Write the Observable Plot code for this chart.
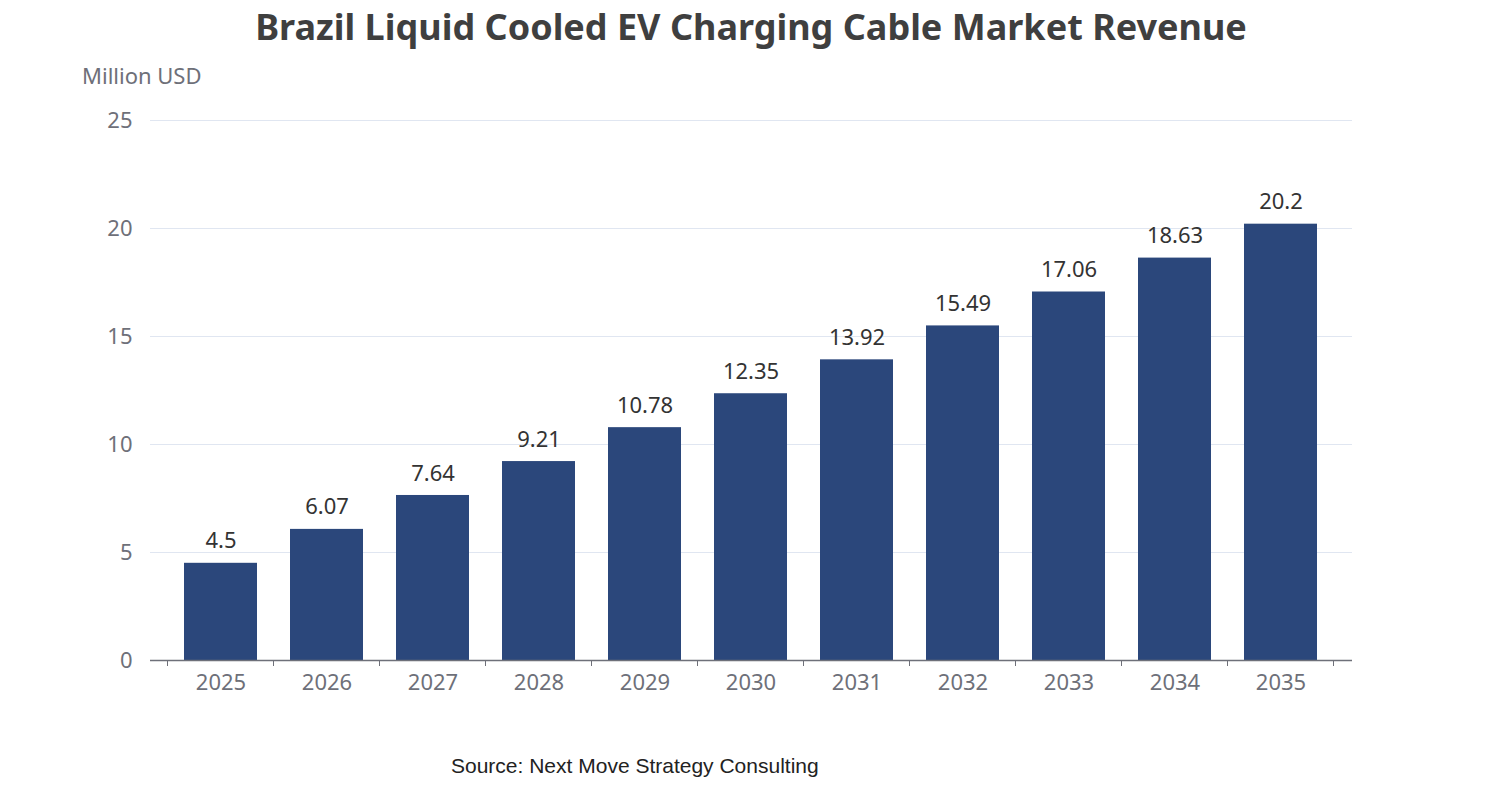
<!DOCTYPE html>
<html><head><meta charset="utf-8">
<script src="https://cdn.jsdelivr.net/npm/d3@7"></script>
<script src="https://cdn.jsdelivr.net/npm/@observablehq/plot@0.6"></script>
<style>
body{margin:0;background:#fff;font-family:"Noto Sans",sans-serif;}
#wrap{position:relative;width:1502px;height:800px;}
.t{position:absolute;white-space:nowrap;}
</style></head><body>
<div id="wrap">
<div class="t" style="left:0;width:1502px;text-align:center;top:2px;font-size:36px;font-weight:bold;color:#3f3f3f;">Brazil Liquid Cooled EV Charging Cable Market Revenue</div>
<div class="t" style="left:82px;top:60px;font-size:22px;color:#6e7079;">Million USD</div>
<div class="t" style="left:451px;top:754px;font-size:21px;color:#222;font-family:'Liberation Sans',Arial,sans-serif;">Source: Next Move Strategy Consulting</div>
</div>
<script>
const years = ["2025","2026","2027","2028","2029","2030","2031","2032","2033","2034","2035"];
const values = [4.5,6.07,7.64,9.21,10.78,12.35,13.92,15.49,17.06,18.63,20.2];
const yTicks = [0,5,10,15,20,25];
const data = years.map((y,i)=>({year:y,value:values[i]}));
const chart = Plot.plot({
  width:1502,height:800,
  marginTop:120,marginBottom:140,marginLeft:150,marginRight:150,
  style:{fontSize:"22px",fontFamily:"Noto Sans, sans-serif",background:"transparent"},
  x:{domain:years,padding:0.31,label:null,tickSize:0,tickPadding:14},
  y:{domain:[0,25],ticks:yTicks,label:null,tickSize:0,tickPadding:18},
  marks:[
    Plot.gridY(yTicks,{stroke:"#e0e6f1",strokeOpacity:1}),
    Plot.barY(data,{x:"year",y:"value",fill:"#2b477b"}),
    Plot.text(data,{x:"year",y:"value",text:d=>String(d.value),dy:-22,fill:"#333",fontSize:22}),
    Plot.ruleY([0],{stroke:"#6e7079",strokeWidth:1.5}),
    Plot.axisX({tickSize:0,tickPadding:14,fill:"#6e7079",fontSize:22}),
    Plot.axisY(yTicks,{tickSize:0,tickPadding:18,fill:"#6e7079",fontSize:22})
  ]
});
const svg = chart;
svg.style.position="absolute";svg.style.left="0";svg.style.top="0";
document.getElementById("wrap").prepend(svg);
// band-boundary ticks as in reference
const xs = chart.scale("x");
const bw = xs.step;
const g = d3.select(svg).append("g").attr("stroke","#6e7079");
for(let i=0;i<=years.length;i++){
  const cx = (i<years.length? xs.apply(years[i]) - (xs.step*xs.paddingOuter? 0:0) : 0);
}
const first = xs.apply(years[0]) + xs.bandwidth/2 - bw/2;
for(let i=0;i<=years.length;i++){
  const px = first + i*bw;
  g.append("line").attr("x1",px).attr("x2",px).attr("y1",660).attr("y2",666);
}
</script>
</body></html>
